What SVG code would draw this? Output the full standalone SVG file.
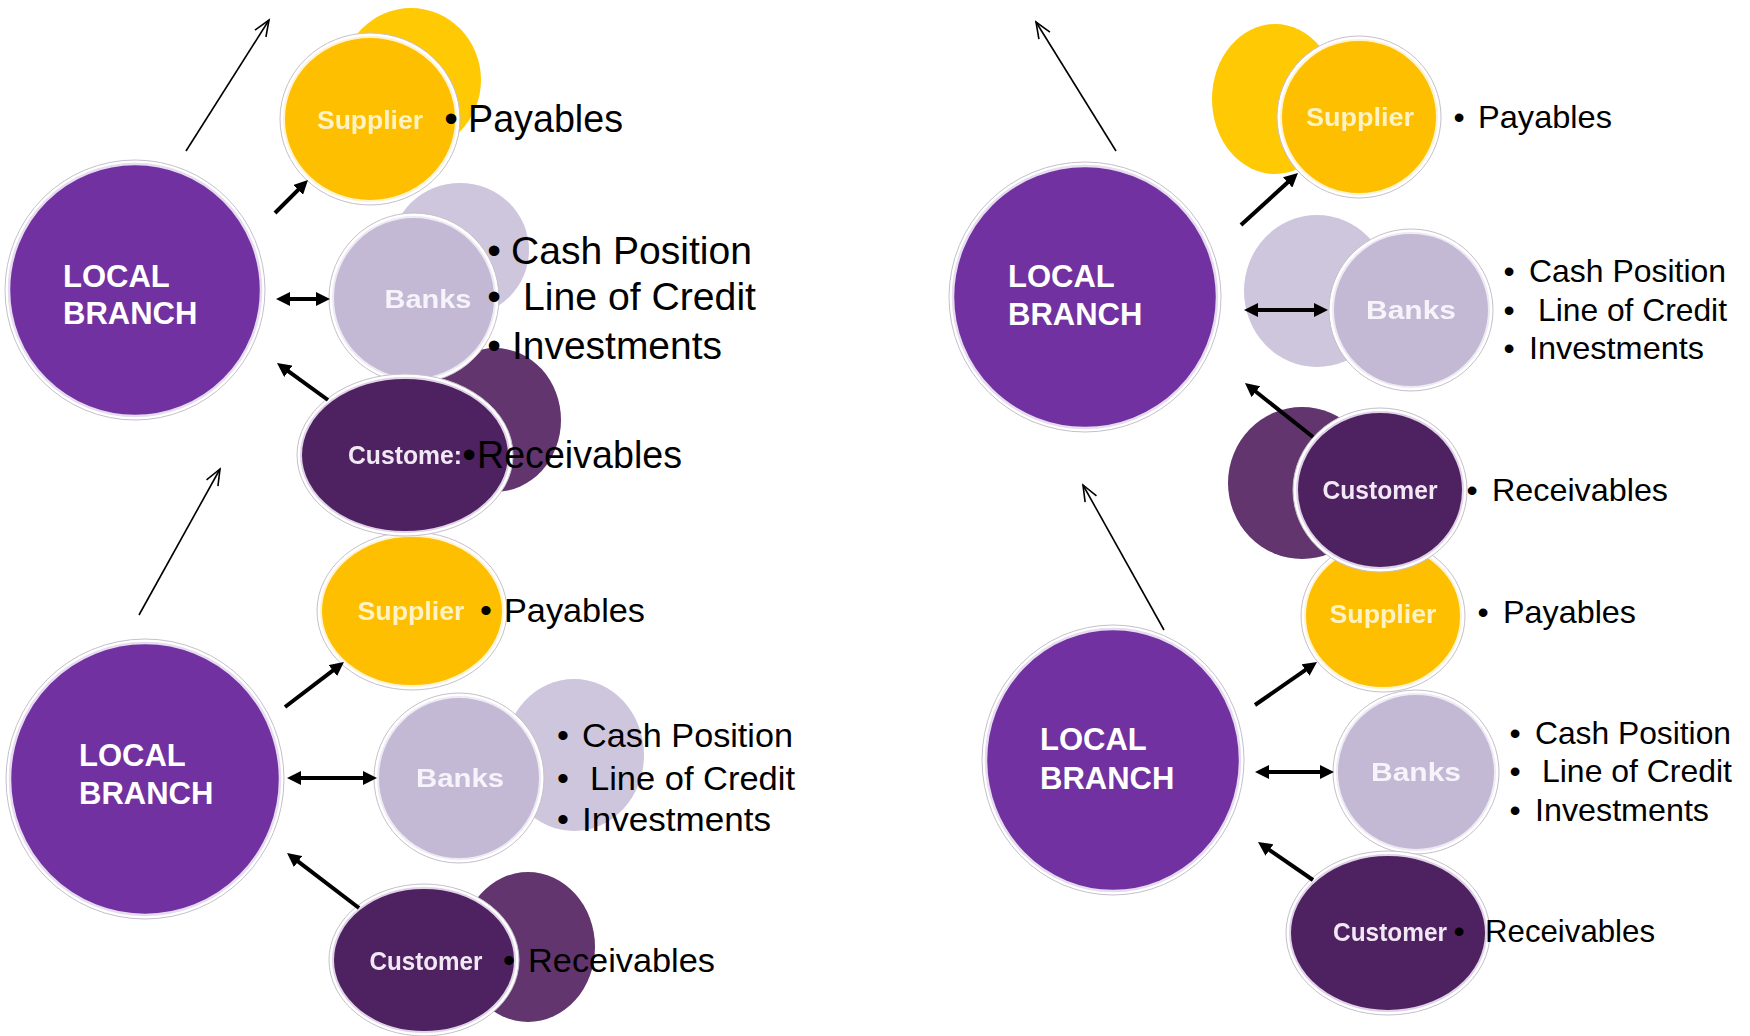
<svg xmlns="http://www.w3.org/2000/svg" width="1750" height="1036" viewBox="0 0 1750 1036">
  <style>
    .ring { fill: #ffffff; stroke: #c6bfcc; stroke-width: 1; }
    .branch { fill: #7131a0; stroke: #e6dcef; stroke-width: 2.5; }
    .supplier { fill: #fdbf00; stroke: #fff3cf; stroke-width: 2; }
    .banks { fill: #c3b9d5; stroke: #eeeaf4; stroke-width: 2; }
    .customer { fill: #4e2161; stroke: #e0d3e8; stroke-width: 2; }
    .supplier-bg { fill: #ffc904; }
    .banks-bg { fill: #cec6dc; }
    .customer-bg { fill: #62356e; }
    .title { font-family: "Liberation Sans", Arial, sans-serif; font-weight: bold; font-size: 31px; fill: #ffffff; }
    .label { font-family: "Liberation Sans", Arial, sans-serif; font-weight: bold; font-size: 26px; text-anchor: middle; filter: url(#soft); }
    .label.sup { fill: #fff2c4; }
    .label.bnk { fill: #f6f3fa; }
    .label.cus { fill: #f1e8f4; }
    .note { font-family: "Liberation Sans", Arial, sans-serif; fill: #000000; }
    .bullet { font-family: "Liberation Sans", Arial, sans-serif; fill: #000000; text-anchor: middle; }
    .big { font-size: 39px; }
    .mid { font-size: 34px; }
    .small { font-size: 32px; }
    .bold-link { stroke: #000000; stroke-width: 4; fill: none; }
    .thin-link { stroke: #000000; stroke-width: 1.6; fill: none; }
  </style>
  <defs>
    <filter id="soft" x="-10%" y="-30%" width="120%" height="160%">
      <feGaussianBlur stdDeviation="0.6"/>
    </filter>
    <marker id="solid-head" viewBox="0 0 14 14" refX="4" refY="7" markerWidth="14" markerHeight="14" markerUnits="userSpaceOnUse" orient="auto-start-reverse">
      <path d="M0,0 L14,7 L0,14 Z" fill="#000000"/>
    </marker>
    <marker id="open-head" viewBox="-1 -1 19 15" refX="16" refY="6.5" markerWidth="19" markerHeight="15" markerUnits="userSpaceOnUse" orient="auto" overflow="visible">
      <path d="M0,0 L16,6.5 L0,13" fill="none" stroke="#000000" stroke-width="1.6"/>
    </marker>
  </defs>

  <rect width="1750" height="1036" fill="#ffffff"/>

  <!-- offset circles sitting behind the supplier / bank / customer discs -->
  <g id="halos">
    <ellipse class="supplier-bg" cx="411" cy="80" rx="70" ry="72"/>
    <ellipse class="banks-bg" cx="460" cy="250" rx="69" ry="67"/>
    <ellipse class="customer-bg" cx="495" cy="420" rx="66" ry="72"/>
    <ellipse class="banks-bg" cx="574" cy="755" rx="70" ry="76"/>
    <ellipse class="customer-bg" cx="528" cy="947" rx="67" ry="75"/>
    <ellipse class="supplier-bg" cx="1275" cy="99" rx="63" ry="75"/>
    <ellipse class="banks-bg" cx="1317" cy="291" rx="73" ry="76"/>
    <ellipse class="customer-bg" cx="1302" cy="483" rx="74" ry="76"/>
  </g>

  <!-- lower-left cluster -->
  <g id="bl-branch">
    <ellipse class="ring" cx="145" cy="779" rx="139" ry="140"/>
    <ellipse class="branch" cx="145" cy="779" rx="135" ry="136"/>
    <text class="title" x="79" y="766">LOCAL</text>
    <text class="title" x="79" y="804">BRANCH</text>
  </g>
  <g id="bl-supplier">
    <ellipse class="ring" cx="412" cy="611" rx="95" ry="79"/>
    <ellipse class="supplier" cx="412" cy="611" rx="91" ry="75"/>
    <text class="label sup" x="411" y="620" textLength="107" lengthAdjust="spacingAndGlyphs">Supplier</text>
  </g>
  <g id="bl-banks">
    <ellipse class="ring" cx="459" cy="778" rx="85" ry="85"/>
    <ellipse class="banks" cx="459" cy="778" rx="81" ry="81"/>
    <text class="label bnk" x="460" y="787" textLength="88" lengthAdjust="spacingAndGlyphs">Banks</text>
  </g>
  <g id="bl-customer">
    <ellipse class="ring" cx="424" cy="960" rx="95" ry="76"/>
    <ellipse class="customer" cx="424" cy="960" rx="91" ry="72"/>
    <text class="label cus" x="426" y="970" textLength="113" lengthAdjust="spacingAndGlyphs">Customer</text>
  </g>

  <!-- lower-right cluster -->
  <g id="br-branch">
    <ellipse class="ring" cx="1113" cy="760" rx="131" ry="135"/>
    <ellipse class="branch" cx="1113" cy="760" rx="127" ry="131"/>
    <text class="title" x="1040" y="750">LOCAL</text>
    <text class="title" x="1040" y="789">BRANCH</text>
  </g>
  <g id="br-supplier">
    <ellipse class="ring" cx="1383" cy="616" rx="82" ry="76"/>
    <ellipse class="supplier" cx="1383" cy="616" rx="78" ry="72"/>
    <text class="label sup" x="1383" y="623" textLength="107" lengthAdjust="spacingAndGlyphs">Supplier</text>
  </g>
  <g id="br-banks">
    <ellipse class="ring" cx="1416" cy="772" rx="83" ry="82"/>
    <ellipse class="banks" cx="1416" cy="772" rx="79" ry="78"/>
    <text class="label bnk" x="1416" y="781" textLength="90" lengthAdjust="spacingAndGlyphs">Banks</text>
  </g>
  <g id="br-customer">
    <ellipse class="ring" cx="1388" cy="933" rx="102" ry="82"/>
    <ellipse class="customer" cx="1388" cy="933" rx="98" ry="78"/>
    <text class="label cus" x="1390" y="941" textLength="114" lengthAdjust="spacingAndGlyphs">Customer</text>
  </g>

  <!-- upper-left cluster -->
  <g id="tl-branch">
    <ellipse class="ring" cx="135" cy="290" rx="130" ry="130"/>
    <ellipse class="branch" cx="135" cy="290" rx="126" ry="126"/>
    <text class="title" x="63" y="287">LOCAL</text>
    <text class="title" x="63" y="324">BRANCH</text>
  </g>
  <g id="tl-supplier">
    <ellipse class="ring" cx="370" cy="119" rx="90" ry="86"/>
    <ellipse class="supplier" cx="370" cy="119" rx="86" ry="82"/>
    <text class="label sup" x="370" y="129" textLength="106" lengthAdjust="spacingAndGlyphs">Supplier</text>
  </g>
  <g id="tl-banks">
    <ellipse class="ring" cx="414" cy="298" rx="85" ry="85"/>
    <ellipse class="banks" cx="414" cy="298" rx="81" ry="81"/>
    <text class="label bnk" x="428" y="308" textLength="87" lengthAdjust="spacingAndGlyphs">Banks</text>
  </g>
  <g id="tl-customer">
    <ellipse class="ring" cx="405" cy="455" rx="108" ry="81"/>
    <ellipse class="customer" cx="405" cy="455" rx="104" ry="77"/>
    <text class="label cus" x="405" y="464" textLength="114" lengthAdjust="spacingAndGlyphs">Custome:</text>
  </g>

  <!-- upper-right cluster -->
  <g id="tr-branch">
    <ellipse class="ring" cx="1085" cy="297" rx="136" ry="135"/>
    <ellipse class="branch" cx="1085" cy="297" rx="132" ry="131"/>
    <text class="title" x="1008" y="287">LOCAL</text>
    <text class="title" x="1008" y="325">BRANCH</text>
  </g>
  <g id="tr-supplier">
    <ellipse class="ring" cx="1359" cy="117" rx="82" ry="81"/>
    <ellipse class="supplier" cx="1359" cy="117" rx="78" ry="77"/>
    <text class="label sup" x="1360" y="126" textLength="108" lengthAdjust="spacingAndGlyphs">Supplier</text>
  </g>
  <g id="tr-banks">
    <ellipse class="ring" cx="1411" cy="310" rx="82" ry="81"/>
    <ellipse class="banks" cx="1411" cy="310" rx="78" ry="77"/>
    <text class="label bnk" x="1411" y="319" textLength="90" lengthAdjust="spacingAndGlyphs">Banks</text>
  </g>
  <g id="tr-customer">
    <ellipse class="ring" cx="1380" cy="490" rx="87" ry="82"/>
    <ellipse class="customer" cx="1380" cy="490" rx="83" ry="78"/>
    <text class="label cus" x="1380" y="499" textLength="115" lengthAdjust="spacingAndGlyphs">Customer</text>
  </g>

  <!-- bullet notes beside each disc -->
  <g id="tl-notes">
    <text class="bullet big" x="451" y="132">•</text>
    <text class="note big" x="468" y="132" textLength="155" lengthAdjust="spacingAndGlyphs">Payables</text>
    <text class="bullet big" x="494" y="264">•</text>
    <text class="note big" x="511" y="264" textLength="241" lengthAdjust="spacingAndGlyphs">Cash Position</text>
    <text class="bullet big" x="494" y="310">•</text>
    <text class="note big" x="523" y="310" textLength="233" lengthAdjust="spacingAndGlyphs">Line of Credit</text>
    <text class="bullet big" x="494" y="359">•</text>
    <text class="note big" x="512" y="359" textLength="210" lengthAdjust="spacingAndGlyphs">Investments</text>
    <text class="bullet big" x="469" y="468">•</text>
    <text class="note big" x="477" y="468" textLength="205" lengthAdjust="spacingAndGlyphs">Receivables</text>
  </g>
  <g id="bl-notes">
    <text class="bullet mid" x="486" y="622">•</text>
    <text class="note mid" x="504" y="622" textLength="141" lengthAdjust="spacingAndGlyphs">Payables</text>
    <text class="bullet mid" x="563" y="747">•</text>
    <text class="note mid" x="582" y="747" textLength="211" lengthAdjust="spacingAndGlyphs">Cash Position</text>
    <text class="bullet mid" x="563" y="790">•</text>
    <text class="note mid" x="590" y="790" textLength="205" lengthAdjust="spacingAndGlyphs">Line of Credit</text>
    <text class="bullet mid" x="563" y="831">•</text>
    <text class="note mid" x="582" y="831" textLength="189" lengthAdjust="spacingAndGlyphs">Investments</text>
    <text class="bullet mid" x="509" y="972">•</text>
    <text class="note mid" x="528" y="972" textLength="187" lengthAdjust="spacingAndGlyphs">Receivables</text>
  </g>
  <g id="tr-notes">
    <text class="bullet small" x="1459" y="128">•</text>
    <text class="note small" x="1478" y="128" textLength="134" lengthAdjust="spacingAndGlyphs">Payables</text>
    <text class="bullet small" x="1509" y="282">•</text>
    <text class="note small" x="1529" y="282" textLength="197" lengthAdjust="spacingAndGlyphs">Cash Position</text>
    <text class="bullet small" x="1509" y="321">•</text>
    <text class="note small" x="1538" y="321" textLength="189" lengthAdjust="spacingAndGlyphs">Line of Credit</text>
    <text class="bullet small" x="1509" y="359">•</text>
    <text class="note small" x="1529" y="359" textLength="175" lengthAdjust="spacingAndGlyphs">Investments</text>
    <text class="bullet small" x="1472" y="501">•</text>
    <text class="note small" x="1492" y="501" textLength="176" lengthAdjust="spacingAndGlyphs">Receivables</text>
  </g>
  <g id="br-notes">
    <text class="bullet small" x="1483" y="623">•</text>
    <text class="note small" x="1503" y="623" textLength="133" lengthAdjust="spacingAndGlyphs">Payables</text>
    <text class="bullet small" x="1515" y="744">•</text>
    <text class="note small" x="1535" y="744" textLength="196" lengthAdjust="spacingAndGlyphs">Cash Position</text>
    <text class="bullet small" x="1515" y="782">•</text>
    <text class="note small" x="1542" y="782" textLength="190" lengthAdjust="spacingAndGlyphs">Line of Credit</text>
    <text class="bullet small" x="1515" y="821">•</text>
    <text class="note small" x="1535" y="821" textLength="174" lengthAdjust="spacingAndGlyphs">Investments</text>
    <text class="bullet small" x="1459" y="942">•</text>
    <text class="note small" x="1485" y="942" textLength="170" lengthAdjust="spacingAndGlyphs">Receivables</text>
  </g>

  <!-- connectors -->
  <g id="connectors">
    <!-- thin links between clusters -->
    <line class="thin-link" x1="186" y1="151" x2="269" y2="20" marker-end="url(#open-head)"/>
    <line class="thin-link" x1="139" y1="615" x2="220" y2="469" marker-end="url(#open-head)"/>
    <line class="thin-link" x1="1116" y1="151" x2="1036" y2="22" marker-end="url(#open-head)"/>
    <line class="thin-link" x1="1164" y1="630" x2="1083" y2="485" marker-end="url(#open-head)"/>
    <!-- upper-left flows -->
    <line class="bold-link" x1="275" y1="213" x2="300.9" y2="187.1" marker-end="url(#solid-head)"/>
    <line class="bold-link" x1="286" y1="299" x2="320" y2="299" marker-start="url(#solid-head)" marker-end="url(#solid-head)"/>
    <line class="bold-link" x1="328" y1="400" x2="285.1" y2="368.9" marker-end="url(#solid-head)"/>
    <!-- lower-left flows -->
    <line class="bold-link" x1="285" y1="707" x2="336" y2="668.1" marker-end="url(#solid-head)"/>
    <line class="bold-link" x1="297" y1="778" x2="367" y2="778" marker-start="url(#solid-head)" marker-end="url(#solid-head)"/>
    <line class="bold-link" x1="359" y1="908" x2="295" y2="859.1" marker-end="url(#solid-head)"/>
    <!-- upper-right flows -->
    <line class="bold-link" x1="1241" y1="225" x2="1290.6" y2="179.7" marker-end="url(#solid-head)"/>
    <line class="bold-link" x1="1254" y1="310" x2="1318" y2="310" marker-start="url(#solid-head)" marker-end="url(#solid-head)"/>
    <line class="bold-link" x1="1313" y1="437" x2="1252.8" y2="389.2" marker-end="url(#solid-head)"/>
    <!-- lower-right flows -->
    <line class="bold-link" x1="1255" y1="705" x2="1308.8" y2="667.7" marker-end="url(#solid-head)"/>
    <line class="bold-link" x1="1265" y1="772" x2="1324" y2="772" marker-start="url(#solid-head)" marker-end="url(#solid-head)"/>
    <line class="bold-link" x1="1313" y1="880" x2="1266.2" y2="847.7" marker-end="url(#solid-head)"/>
  </g>
</svg>
